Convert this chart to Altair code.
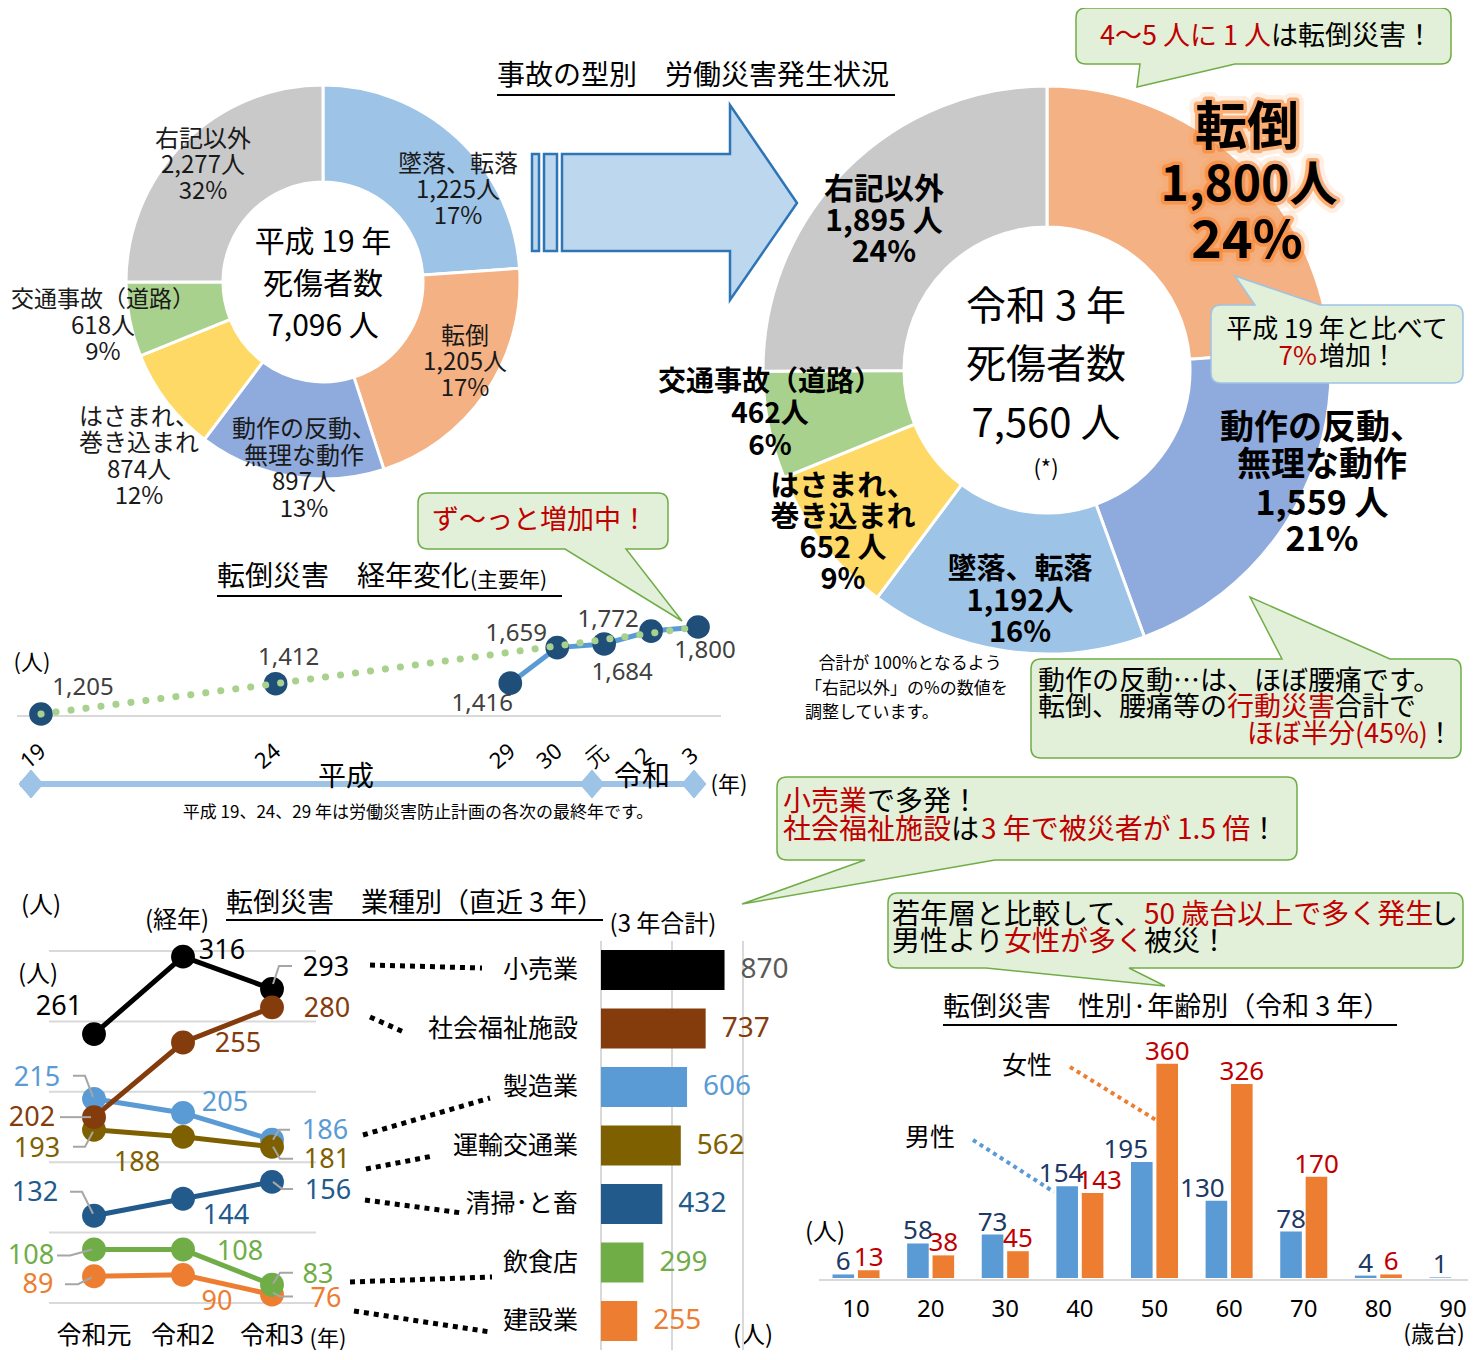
import altair as alt
import pandas as pd

JP = "Noto Sans CJK JP"
NUM = "Noto Sans"
OFF = 8  # page margin: reference pixel -> chart pixel

# ======================= data =======================
# 事故の型別 (平成19年)
h19_types = ["墜落、転落", "転倒", "動作の反動、無理な動作", "はさまれ、巻き込まれ", "交通事故（道路）", "右記以外"]
h19_counts = [1225, 1205, 897, 874, 618, 2277]
h19_pct = [17, 17, 13, 12, 9, 32]
h19_slice_deg = [86, 76, 55, 31, 22, 90]   # slice angles as drawn in the picture
h19_total = 7096

# 事故の型別 (令和3年)
r3_types = ["転倒", "動作の反動、無理な動作", "墜落、転落", "はさまれ、巻き込まれ", "交通事故（道路）", "右記以外"]
r3_counts = [1800, 1559, 1192, 652, 462, 1895]
r3_pct = [24, 21, 16, 9, 6, 24]
r3_total = 7560

# 転倒災害 経年変化
year_heisei = [19, 24, 29, 30, 31, 32, 33]
year_ticks = ["19", "24", "29", "30", "元", "2", "3"]
falls_by_year = [1205, 1412, 1416, 1659, 1684, 1772, 1800]
trend_years = [19, 24, 33]

# 業種別
industries = ["小売業", "社会福祉施設", "製造業", "運輸交通業", "清掃･と畜", "飲食店", "建設業"]
ind_r1 = [261, 202, 215, 193, 132, 108, 89]
ind_r2 = [316, 255, 205, 188, 144, 108, 90]
ind_r3 = [293, 280, 186, 181, 156, 83, 76]
ind_total = [870, 737, 606, 562, 432, 299, 255]
era_ticks = ["令和元", "令和2", "令和3"]
ind_grid = [70, 120, 170, 220, 270, 320]
total_grid = [0, 500, 1000]

# 性別・年齢別
age_groups = ["10", "20", "30", "40", "50", "60", "70", "80", "90"]
male_by_age = [6, 58, 73, 154, 195, 130, 78, 4, 1]
female_by_age = [13, 38, 45, 143, 360, 326, 170, 6, 0]

# ======================= styles =======================
RED = "#C00000"
type_color = {"墜落、転落": "#9DC3E6", "転倒": "#F4B183", "動作の反動、無理な動作": "#8FAADC",
              "はさまれ、巻き込まれ": "#FFD966", "交通事故（道路）": "#A9D18E", "右記以外": "#C9C9C9"}
name_lines = {"動作の反動、無理な動作": ["動作の反動、", "無理な動作"],
              "はさまれ、巻き込まれ": ["はさまれ、", "巻き込まれ"]}
ind_color = {"小売業": "#000000", "社会福祉施設": "#843C0C", "製造業": "#5B9BD5", "運輸交通業": "#7F6000",
             "清掃･と畜": "#235A8C", "飲食店": "#70AD47", "建設業": "#ED7D31"}
bar_label_color = dict(ind_color, **{"小売業": "#595959"})
sex_color = {"男性": "#5B9BD5", "女性": "#ED7D31"}
sex_label_color = {"男性": "#203864", "女性": RED}

ONE = pd.DataFrame({"k": [0]})


def cx(v):
    return v - OFF


def text(x, y, s, size=24, color="#000000", weight="normal", align="center", font=JP, **kw):
    mk = dict(fontSize=size, color=color, fontWeight=weight, align=align, baseline="middle", font=font)
    mk.update(kw)
    return alt.Chart(ONE).mark_text(**mk).encode(x=alt.value(cx(x)), y=alt.value(cx(y)), text=alt.value(s))


def poly(pts, close=False):
    d = "M " + " L ".join(f"{x - OFF:.1f},{y - OFF:.1f}" for x, y in pts)
    return d + (" Z" if close else "")


def rel(pts):
    return "M " + " L ".join(f"{x},{y}" for x, y in pts)


def shape(d, stroke=None, sw=1.5, fill=None, dash=None):
    mk = dict(shape=d, size=4, opacity=1, strokeWidth=sw)
    if fill is not None:
        mk.update(filled=True, fill=fill, fillOpacity=1)
    else:
        mk.update(filled=False, fill="transparent")
    if stroke is not None:
        mk.update(stroke=stroke, strokeOpacity=1)
    if dash:
        mk["strokeDash"] = dash
    return alt.Chart(ONE).mark_point(**mk).encode(x=alt.value(0), y=alt.value(0))


def callout(x0, y0, x1, y1, side, b1, b2, tip, r=10):
    x0, y0, x1, y1, b1, b2 = x0 - OFF, y0 - OFF, x1 - OFF, y1 - OFF, b1 - OFF, b2 - OFF
    tx, ty = tip[0] - OFF, tip[1] - OFF
    d = f"M {x0 + r},{y0} "
    if side == "top":
        d += f"L {b1},{y0} L {tx},{ty} L {b2},{y0} "
    d += f"L {x1 - r},{y0} Q {x1},{y0} {x1},{y0 + r} L {x1},{y1 - r} Q {x1},{y1} {x1 - r},{y1} "
    if side == "bottom":
        d += f"L {b2},{y1} L {tx},{ty} L {b1},{y1} "
    d += f"L {x0 + r},{y1} Q {x0},{y1} {x0},{y1 - r} L {x0},{y0 + r} Q {x0},{y0} {x0 + r},{y0} Z"
    return d


layers = []

# ======================= donut H19 =======================
df_h19 = pd.DataFrame({"type": h19_types, "deg": h19_slice_deg, "i": list(range(len(h19_types)))})
df_h19["col"] = df_h19["type"].map(type_color)
layers.append(alt.Chart(df_h19).mark_arc(innerRadius=100, outerRadius=197, stroke="white", strokeWidth=3).encode(
    theta=alt.Theta("deg:Q", stack="normalize"),
    color=alt.Color("col:N", scale=None), order=alt.Order("i:Q"),
    x=alt.value(cx(323)), y=alt.value(cx(282))))

h19_label_pos = {"右記以外": (203, [140, 166, 192]), "墜落、転落": (458, [165, 191, 217]),
                 "転倒": (465, [337, 363, 389]), "動作の反動、無理な動作": (304, [430, 457, 483, 510]),
                 "はさまれ、巻き込まれ": (139, [418, 444, 471, 497]), "交通事故（道路）": (103, [300, 327, 353])}
for i, t in enumerate(h19_types):
    lines = name_lines.get(t, [t]) + [f"{h19_counts[i]:,}人", f"{h19_pct[i]}%"]
    x, ys = h19_label_pos[t]
    for k, (s, y) in enumerate(zip(lines, ys)):
        size = 23 if (t == "交通事故（道路）" and k == 0) else 24
        layers.append(text(x, y, s, size, "#1a1a1a"))
layers += [text(323, 243, "平成 19 年", 30), text(323, 285, "死傷者数", 30),
           text(323, 327, f"{h19_total:,} 人", 30)]

# ======================= donut R3 =======================
df_r3 = pd.DataFrame({"type": r3_types, "n": r3_counts, "i": list(range(len(r3_types)))})
df_r3["col"] = df_r3["type"].map(type_color)
layers.append(alt.Chart(df_r3).mark_arc(innerRadius=143, outerRadius=284, stroke="white", strokeWidth=3).encode(
    theta=alt.Theta("n:Q", stack="normalize"),
    color=alt.Color("col:N", scale=None), order=alt.Order("i:Q"),
    x=alt.value(cx(1047)), y=alt.value(cx(370))))

r3_label_pos = {"右記以外": (884, [190, 222, 253], 30, " 人"),
                "交通事故（道路）": (770, [383, 415, 447], 28, "人"),
                "はさまれ、巻き込まれ": (843, [487, 518, 549, 580], 29, " 人"),
                "墜落、転落": (1020, [570, 602, 633], 29, "人"),
                "動作の反動、無理な動作": (1322, [429, 466, 505, 541], 34, " 人")}
for i, t in enumerate(r3_types):
    if t == "転倒":
        continue
    x, ys, size, unit = r3_label_pos[t]
    lines = name_lines.get(t, [t]) + [f"{r3_counts[i]:,}{unit}", f"{r3_pct[i]}%"]
    for s, y in zip(lines, ys):
        layers.append(text(x, y, s, size, "#000000", "bold"))

# big glowing 転倒 label
big = [("転倒", 1247, 129, 52), (f"{r3_counts[0]:,}人", 1249, 187, 48), (f"{r3_pct[0]}%", 1247, 242, 52)]
for s, x, y, size in big:
    layers.append(text(x, y, s, size, "#FF9A4D", "bold", stroke="#FF9A4D", strokeWidth=16,
                       strokeOpacity=0.25, strokeJoin="round", opacity=0.6))
    layers.append(text(x, y, s, size, "#F7832F", "bold", stroke="#F7832F", strokeWidth=7,
                       strokeOpacity=0.6, strokeJoin="round"))
    layers.append(text(x, y, s, size, "#000000", "bold"))

layers += [text(1046, 308, "令和 3 年", 40), text(1046, 366, "死傷者数", 40),
           text(1046, 425, f"{r3_total:,} 人", 40), text(1046, 469, "(*)", 22)]
layers += [text(910, 664, "合計が 100%となるよう", 17), text(805, 689, "「右記以外」の%の数値を", 17, align="left"),
           text(805, 713, "調整しています。", 17, align="left")]

# ======================= title + arrow =======================
layers.append(text(497, 77, "事故の型別　労働災害発生状況", 28, align="left"))
arrow = (poly([(562, 154), (730, 154), (730, 105), (797, 203), (730, 300), (730, 251), (562, 251)], True) + " " +
         poly([(532, 154), (539, 154), (539, 251), (532, 251)], True) + " " +
         poly([(544, 154), (557, 154), (557, 251), (544, 251)], True))
layers.append(shape(arrow, stroke="#2E75B6", sw=2.5, fill="#BDD7EE"))

# ======================= 経年変化 =======================
df_yr = pd.DataFrame({"h": year_heisei, "lab": year_ticks, "v": falls_by_year})
xm = alt.X("h:Q", scale=alt.Scale(domain=[19, 33], range=[cx(41), cx(698)], nice=False, zero=False), axis=None)
ym = alt.Y("v:Q", scale=alt.Scale(domain=[1205, 1800], range=[cx(714), cx(627)], nice=False, zero=False), axis=None)
bm = alt.Chart(df_yr)
mid = [
    bm.transform_filter("datum.h >= 29").mark_line(color="#5B9BD5", strokeWidth=5).encode(x=xm, y=ym),
    bm.mark_circle(size=560, color="#1F4E79", opacity=1).encode(x=xm, y=ym),
    bm.transform_filter(alt.FieldOneOfPredicate(field="h", oneOf=trend_years)).mark_line(
        color="#A9D18E", strokeWidth=7, strokeDash=[0.1, 15], strokeCap="round").encode(x=xm, y=ym),
    bm.mark_text(angle=320, fontSize=22, font=NUM, dx=-10).encode(x=xm, y=alt.value(cx(750)), text="lab:N"),
]
mid_off = {19: (42, -26), 24: (13, -26), 29: (-28, 21), 30: (-41, -14), 31: (18, 29), 32: (-43, -11), 33: (7, 24)}
for h, (dx, dy) in mid_off.items():
    mid.append(bm.transform_filter(f"datum.h == {h}").mark_text(dx=dx, dy=dy, fontSize=24, font=NUM,
                                                                  color="#404040").encode(
        x=xm, y=ym, text=alt.Text("v:Q", format=",")))
layers.append(shape(poly([(17, 716), (721, 716)]), stroke="#D9D9D9", sw=2))
layers.append(alt.layer(*mid))
layers += [text(217, 578, "転倒災害　経年変化", 28, align="left"), text(470, 581, "(主要年)", 21, align="left"),
           text(32, 663, "(人)", 22)]
layers.append(shape(poly([(20, 784), (701, 784)]), stroke="#9DC3E6", sw=6))
layers.append(shape(" ".join(poly([(x, 770), (x + 12, 784), (x, 798), (x - 12, 784)], True) for x in [31, 592, 694]),
                    stroke="#9DC3E6", sw=1, fill="#9DC3E6"))
layers += [text(346, 778, "平成", 28), text(642, 778, "令和", 28), text(729, 785, "(年)", 22),
           text(418, 813, "平成 19、24、29 年は労働災害防止計画の各次の最終年です。", 17)]

# ======================= 業種別 line chart =======================
draw_order = ["小売業", "製造業", "運輸交通業", "社会福祉施設", "清掃･と畜", "建設業", "飲食店"]
rows = []
for name in draw_order:
    i = industries.index(name)
    for j, v in enumerate([ind_r1[i], ind_r2[i], ind_r3[i]]):
        rows.append({"ind": name, "yi": j, "v": v, "col": ind_color[name]})
df_ind = pd.DataFrame(rows)
xb = alt.X("yi:Q", scale=alt.Scale(domain=[0, 2], range=[cx(94), cx(272)], nice=False, zero=False), axis=None)
yb = alt.Y("v:Q", scale=alt.Scale(domain=[70, 320], range=[cx(1303), cx(951)], nice=False, zero=False), axis=None)
bi = alt.Chart(df_ind)
ind_layers = [
    alt.Chart(pd.DataFrame({"v": ind_grid})).mark_rule(color="#D9D9D9", strokeWidth=2).encode(
        y=yb, x=alt.value(cx(49)), x2=alt.value(cx(316))),
    bi.mark_line(strokeWidth=5).encode(x=xb, y=yb, color=alt.Color("col:N", scale=None), detail="ind:N",
                                       order="yi:Q"),
    bi.mark_circle(size=570, opacity=1).encode(x=xb, y=yb, color=alt.Color("col:N", scale=None)),
]
leaders = {("小売業", 2): [(20, -23), (7, -23), (1, -5)], ("製造業", 0): [(-21, -23), (-9, -23), (-1, -2)],
           ("社会福祉施設", 0): [(-34, 0), (-3, 0)], ("運輸交通業", 0): [(-21, 17), (-9, 17), (-1, 2)],
           ("清掃･と畜", 0): [(-24, -24), (-12, -24), (-1, -2)], ("飲食店", 0): [(-37, 6), (-24, 6), (-2, 0)],
           ("建設業", 0): [(-29, 8), (-16, 8), (-2, 1)], ("製造業", 2): [(18, -10), (7, -10), (1, 0)],
           ("運輸交通業", 2): [(21, 12), (8, 12), (1, 0)], ("清掃･と畜", 2): [(21, 7), (10, 7), (1, 0)],
           ("飲食店", 2): [(21, -12), (8, -12), (1, -1)], ("建設業", 2): [(21, 2), (8, 2), (1, -2)]}
for (name, j), pts in leaders.items():
    ind_layers.append(bi.transform_filter(f"datum.ind == '{name}' && datum.yi == {j}").mark_point(
        shape=rel(pts), size=4, filled=False, fill="transparent", stroke="#A6A6A6", strokeWidth=2,
        opacity=1).encode(x=xb, y=yb))
ind_off = {("小売業", 0): (-35, -27), ("小売業", 1): (39, -6), ("小売業", 2): (54, -21),
           ("社会福祉施設", 0): (-62, 1), ("社会福祉施設", 1): (55, 1), ("社会福祉施設", 2): (55, 2),
           ("製造業", 0): (-57, -21), ("製造業", 1): (42, -10), ("製造業", 2): (53, -9),
           ("運輸交通業", 0): (-57, 19), ("運輸交通業", 1): (-46, 26), ("運輸交通業", 2): (55, 13),
           ("清掃･と畜", 0): (-59, -23), ("清掃･と畜", 1): (43, 17), ("清掃･と畜", 2): (56, 9),
           ("飲食店", 0): (-63, 7), ("飲食店", 1): (57, 3), ("飲食店", 2): (46, -10),
           ("建設業", 0): (-56, 9), ("建設業", 1): (34, 27), ("建設業", 2): (54, 4)}
for (name, j), (dx, dy) in ind_off.items():
    ind_layers.append(bi.transform_filter(f"datum.ind == '{name}' && datum.yi == {j}").mark_text(
        dx=dx, dy=dy, fontSize=27, font=NUM).encode(x=xb, y=yb, text="v:Q",
                                                    color=alt.Color("col:N", scale=None)))
ind_layers.append(alt.Chart(pd.DataFrame({"yi": [0, 1, 2], "lab": era_ticks})).mark_text(
    fontSize=25, font=JP).encode(x=xb, y=alt.value(cx(1336)), text="lab:N"))
layers.append(alt.layer(*ind_layers))
layers += [text(226, 904, "転倒災害　業種別（直近 3 年）", 27, align="left"),
           text(41, 906, "(人)", 24), text(177, 921, "(経年)", 24), text(38, 975, "(人)", 24),
           text(328, 1339, "(年)", 22), text(663, 925, "(3 年合計)", 24), text(753, 1336, "(人)", 24)]

# ======================= 3年合計 bars =======================
df_tot = pd.DataFrame({"ind": industries, "total": ind_total})
df_tot["col"] = df_tot["ind"].map(ind_color)
df_tot["lcol"] = df_tot["ind"].map(bar_label_color)
ybar = alt.Y("ind:N", scale=alt.Scale(domain=industries, range=[cx(940.75), cx(1350.25)],
                                      paddingInner=0.316, paddingOuter=0.158), axis=None)
xbar = alt.X("total:Q", scale=alt.Scale(domain=[0, 1000], range=[cx(601), cx(743)], nice=False, zero=False),
             axis=None)
bt = alt.Chart(df_tot)
layers.append(alt.layer(
    alt.Chart(pd.DataFrame({"total": total_grid})).mark_rule(color="#D9D9D9", strokeWidth=2).encode(
        x=xbar, y=alt.value(cx(941)), y2=alt.value(cx(1350))),
    bt.mark_bar().encode(x=xbar, y=ybar, color=alt.Color("col:N", scale=None)),
    bt.mark_text(align="left", dx=16, fontSize=28, font=NUM).encode(
        x=xbar, y=ybar, text="total:Q", color=alt.Color("lcol:N", scale=None)),
    bt.mark_text(align="right", fontSize=25, font=JP).encode(x=alt.value(cx(578)), y=ybar, text="ind:N"),
))
conns = [[(370, 965), (482, 968)], [(370, 1017), (406, 1033)], [(363, 1135), (490, 1098)],
         [(366, 1169), (433, 1156)], [(365, 1200), (462, 1213)], [(350, 1282), (492, 1277)],
         [(354, 1311), (490, 1332)]]
layers.append(shape(" ".join(poly(c) for c in conns), stroke="#000000", sw=5, dash=[5, 5]))

# ======================= 性別・年齢別 =======================
rows = []
for k, a in enumerate(age_groups):
    rows.append({"age": a, "sex": "男性", "v": male_by_age[k]})
    rows.append({"age": a, "sex": "女性", "v": female_by_age[k]})
df_age = pd.DataFrame(rows)
df_age["col"] = df_age["sex"].map(sex_color)
df_age["lcol"] = df_age["sex"].map(sex_label_color)
xa = alt.X("age:N", scale=alt.Scale(domain=age_groups, range=[cx(818.7), cx(1490.3)],
                                    paddingInner=0.37, paddingOuter=0.185), axis=None)
xo = alt.XOffset("sex:N", scale=alt.Scale(domain=["男性", "女性"], paddingInner=0.15))
ya = alt.Y("v:Q", scale=alt.Scale(domain=[0, 400], range=[cx(1278), cx(1040)], nice=False, zero=False), axis=None)
ba = alt.Chart(df_age)
age_layers = [ba.mark_bar().encode(x=xa, xOffset=xo, y=ya, color=alt.Color("col:N", scale=None))]
special_dx = {("40", "男性"): -6, ("40", "女性"): 7, ("50", "男性"): -16, ("60", "男性"): -14}
cond = " || ".join(f"(datum.age == '{a}' && datum.sex == '{s}')" for a, s in special_dx)
age_layers.append(ba.transform_filter(f"datum.v > 0 && !({cond})").mark_text(
    fontSize=26, font=NUM, dy=-12).encode(x=xa, xOffset=xo, y=ya, text="v:Q",
                                           color=alt.Color("lcol:N", scale=None)))
for (a, s), dx in special_dx.items():
    age_layers.append(ba.transform_filter(f"datum.age == '{a}' && datum.sex == '{s}'").mark_text(
        fontSize=26, font=NUM, dy=-12, dx=dx).encode(x=xa, xOffset=xo, y=ya, text="v:Q",
                                                      color=alt.Color("lcol:N", scale=None)))
age_layers.append(alt.Chart(pd.DataFrame({"age": age_groups})).mark_text(fontSize=24, font=NUM).encode(
    x=xa, y=alt.value(cx(1310)), text="age:N"))
layers.append(shape(poly([(819, 1280), (1468, 1280)]), stroke="#D9D9D9", sw=2))
layers.append(alt.layer(*age_layers))
layers.append(shape(poly([(1070, 1067), (1156, 1120)]), stroke="#ED7D31", sw=4, dash=[4, 4]))
layers.append(shape(poly([(973, 1140), (1054, 1192)]), stroke="#5B9BD5", sw=4, dash=[4, 4]))
layers += [text(943, 1008, "転倒災害　性別·年齢別（令和 3 年）", 27, align="left"),
           text(1027, 1066, "女性", 25), text(930, 1138, "男性", 25), text(825, 1233, "(人)", 24),
           text(1434, 1335, "(歳台)", 23)]

# underlines
layers.append(shape(" ".join([poly([(497, 95), (895, 95)]), poly([(217, 596), (562, 596)]),
                              poly([(226, 920), (603, 920)]), poly([(943, 1025), (1397, 1025)])]),
                    stroke="#000000", sw=2))

# ======================= callouts =======================
GF, GS = "#E2F0D9", "#70AD47"
layers += [
    shape(callout(1076, 8, 1451, 64, "bottom", 1140, 1235, (1137, 87)), stroke=GS, fill=GF),
    shape(callout(1211, 305, 1463, 383, "top", 1255, 1320, (1235, 276)), stroke="#9DC3E6", fill=GF),
    shape(callout(1031, 659, 1461, 758, "top", 1282, 1390, (1250, 597)), stroke=GS, fill=GF),
    shape(callout(418, 493, 668, 549, "bottom", 565, 626, (682, 621)), stroke=GS, fill=GF),
    shape(callout(777, 777, 1297, 860, "bottom", 865, 995, (742, 904)), stroke=GS, fill=GF),
    shape(callout(888, 893, 1463, 968, "bottom", 986, 1129, (1165, 986)), stroke=GS, fill=GF),
]
layers += [
    text(1100, 37, "4～5 人に 1 人", 27, RED, align="left"), text(1271, 37, "は転倒災害！", 27, align="left"),
    text(1337, 330, "平成 19 年と比べて", 26), text(1317, 357, "7%", 26, RED, align="right"),
    text(1319, 357, "増加！", 26, align="left"),
    text(1038, 682, "動作の反動…は、ほぼ腰痛です。", 27, align="left"),
    text(1038, 708, "転倒、腰痛等の", 27, align="left"), text(1227, 708, "行動災害", 27, RED, align="left"),
    text(1335, 708, "合計で", 27, align="left"),
    text(1428, 735, "ほぼ半分(45%)", 27, RED, align="right"), text(1440, 735, "！", 27),
    text(540, 521, "ず～っと増加中！", 27, RED),
    text(783, 803, "小売業", 28, RED, align="left"), text(867, 803, "で多発！", 28, align="left"),
    text(783, 831, "社会福祉施設", 28, RED, align="left"), text(951, 831, "は", 28, align="left"),
    text(981, 831, "3 年で被災者が 1.5 倍", 28, RED, align="left"), text(1250, 831, "！", 28, align="left"),
    text(892, 916, "若年層と比較して、", 28, align="left"),
    text(1144, 916, "50 歳台以上で多く発生", 28, RED, align="left"), text(1430, 916, "し", 28, align="left"),
    text(892, 943, "男性より", 28, align="left"), text(1004, 943, "女性が多く", 28, RED, align="left"),
    text(1144, 943, "被災！", 28, align="left"),
]

chart = alt.layer(*layers).resolve_scale(
    x="independent", y="independent", xOffset="independent", theta="independent"
).properties(
    width=1462, height=1344, padding=0, background="white",
    autosize=alt.AutoSizeParams(type="none"),
).configure_view(stroke=None)

chart.save("out.html", embed_options={"renderer": "svg", "actions": False})
